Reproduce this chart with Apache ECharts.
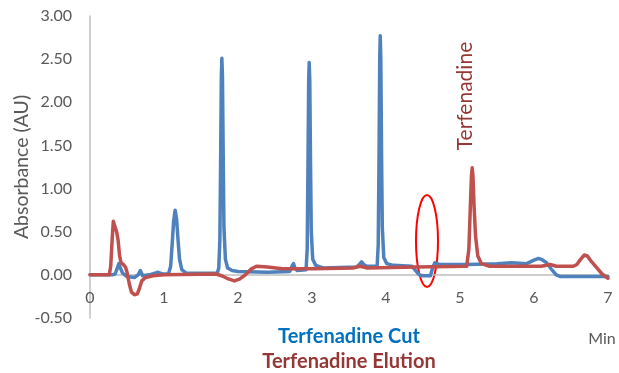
<!DOCTYPE html>
<html>
<head>
<meta charset="utf-8">
<script src="https://cdn.jsdelivr.net/npm/echarts@6/dist/echarts.min.js"></script>
<style>
    html, body {margin: 0; padding: 0; background: #fff;}
    #chart {width: 619px; height: 373px;}
</style>
</head>
<body>
<div id="chart"></div>
<script>
// Terfenadine Cut (blue trace)
var cutTime = [0.00, 0.30, 0.34, 0.37, 0.39, 0.41, 0.44, 0.50, 0.60, 0.65, 0.68, 0.71, 0.80, 0.88, 0.92, 0.98,
    1.06, 1.09, 1.11, 1.13, 1.15, 1.17, 1.19, 1.21, 1.24, 1.30,
    1.72, 1.74, 1.755, 1.765, 1.775, 1.782, 1.79, 1.80, 1.81, 1.83, 1.86, 1.92, 2.00,
    2.40, 2.70, 2.73, 2.75, 2.77, 2.80, 2.92, 2.935, 2.945, 2.955, 2.962, 2.97, 2.98, 2.99, 3.01, 3.05,
    3.15, 3.60, 3.64, 3.67, 3.70, 3.74, 3.88, 3.895, 3.905, 3.915, 3.922, 3.93, 3.94, 3.95, 3.97, 4.01,
    4.10, 4.35, 4.40, 4.45, 4.50, 4.60, 4.63, 4.66, 4.72, 5.10, 5.50, 5.70, 5.90,
    6.00, 6.06, 6.10, 6.17, 6.24, 6.30, 6.36, 7.00];
var cutAbs = [0.00, 0.00, 0.01, 0.08, 0.13, 0.08, 0.02, -0.02, -0.03, 0.00, 0.05, -0.01, 0.00, 0.02, 0.03, 0.01,
    0.01, 0.10, 0.35, 0.62, 0.75, 0.65, 0.40, 0.18, 0.06, 0.02,
    0.02, 0.08, 0.40, 1.30, 2.30, 2.51, 2.30, 1.40, 0.55, 0.18, 0.08, 0.05, 0.04,
    0.03, 0.04, 0.10, 0.13, 0.08, 0.05, 0.06, 0.30, 1.20, 2.25, 2.46, 2.25, 1.30, 0.50, 0.18, 0.11,
    0.08, 0.09, 0.12, 0.15, 0.12, 0.10, 0.10, 0.35, 1.30, 2.50, 2.77, 2.50, 1.40, 0.55, 0.20, 0.13,
    0.11, 0.10, 0.05, 0.00, -0.01, -0.01, 0.08, 0.14, 0.12, 0.12, 0.13, 0.14, 0.13,
    0.17, 0.19, 0.18, 0.14, 0.06, 0.00, -0.02, -0.02];

// Terfenadine Elution (red trace)
var elutionTime = [0.00, 0.26, 0.28, 0.30, 0.315, 0.325, 0.34, 0.36, 0.38, 0.40, 0.42, 0.45, 0.48, 0.50, 0.53, 0.56,
    0.60, 0.64, 0.67, 0.70, 0.75, 0.85, 1.00, 1.70, 1.78, 1.85, 1.95, 2.02, 2.10, 2.18, 2.25, 2.40, 2.60,
    3.00, 3.55, 3.65, 3.75, 4.40, 5.09, 5.12, 5.14, 5.155, 5.165, 5.175, 5.19, 5.21, 5.24, 5.29, 5.40,
    6.10, 6.22, 6.30, 6.53, 6.58, 6.63, 6.68, 6.72, 6.78, 6.85, 6.92, 7.00];
var elutionAbs = [0.00, 0.00, 0.10, 0.42, 0.62, 0.64, 0.55, 0.50, 0.40, 0.22, 0.14, 0.12, 0.09, 0.03, -0.10, -0.20,
    -0.23, -0.22, -0.15, -0.07, -0.03, -0.01, 0.00, 0.01, -0.01, -0.04, -0.07, -0.05, 0.00, 0.07, 0.10, 0.09, 0.07,
    0.07, 0.08, 0.10, 0.08, 0.09, 0.10, 0.30, 0.80, 1.15, 1.24, 1.15, 0.80, 0.45, 0.22, 0.13, 0.10,
    0.10, 0.12, 0.10, 0.10, 0.12, 0.18, 0.23, 0.22, 0.15, 0.08, 0.01, -0.04];

var xTicks = [0, 1, 2, 3, 4, 5, 6, 7];
var yTicks = [-0.5, 0, 0.5, 1, 1.5, 2, 2.5, 3];

function pairs(xs, ys) {
    var list = [];
    for (var i = 0; i < xs.length; i++) {
        list.push([xs[i], ys[i]]);
    }
    return list;
}

var font = 'Lato, "Open Sans", sans-serif';
var gridTop = 16, gridBottom = 55, chartHeight = 373;
// move the x axis up to the 0.00 line
var plotHeight = chartHeight - gridTop - gridBottom;
var zeroOffset = plotHeight * (0 - yTicks[0]) / (yTicks[yTicks.length - 1] - yTicks[0]);

var chart = echarts.init(document.getElementById('chart'));
chart.setOption({
    animation: false,
    grid: {left: 90, right: 11, top: gridTop, bottom: gridBottom, containLabel: false, outerBoundsMode: 'none'},
    xAxis: {
        type: 'value',
        min: xTicks[0],
        max: xTicks[xTicks.length - 1],
        interval: 1,
        offset: -zeroOffset,
        axisLine: {onZero: false, lineStyle: {color: '#BFBFBF', width: 1.5}},
        axisTick: {show: false},
        splitLine: {show: false},
        axisLabel: {color: '#595959', fontSize: 16, fontFamily: font, margin: 15}
    },
    yAxis: {
        type: 'value',
        min: yTicks[0],
        max: yTicks[yTicks.length - 1],
        interval: 0.5,
        name: 'Absorbance (AU)',
        nameLocation: 'middle',
        nameGap: 58,
        nameMoveOverlap: false,
        nameTextStyle: {color: '#595959', fontSize: 19.5, fontFamily: font},
        axisLine: {show: true, lineStyle: {color: '#BFBFBF', width: 1.5}},
        axisTick: {show: false},
        splitLine: {show: false},
        axisLabel: {
            color: '#595959', fontSize: 16, fontFamily: font, margin: 18,
            formatter: function (v) { return v.toFixed(2); }
        }
    },
    series: [
        {
            name: 'Terfenadine Cut',
            type: 'line',
            showSymbol: false,
            lineStyle: {color: '#4F81BD', width: 3.5, join: 'round', cap: 'round'},
            data: pairs(cutTime, cutAbs)
        },
        {
            name: 'Terfenadine Elution',
            type: 'line',
            showSymbol: false,
            lineStyle: {color: '#C0504D', width: 3.5, join: 'round', cap: 'round'},
            data: pairs(elutionTime, elutionAbs)
        }
    ],
    graphic: [
        {
            type: 'text', x: 465, y: 96, rotation: Math.PI / 2,
            style: {text: 'Terfenadine', fill: '#953735', font: '21px ' + font, align: 'center', verticalAlign: 'middle'}
        },
        {
            type: 'ellipse', shape: {cx: 427, cy: 241, rx: 11, ry: 46},
            style: {fill: 'none', stroke: '#FF0000', lineWidth: 2}
        },
        {
            type: 'text', x: 349, y: 337,
            style: {text: 'Terfenadine Cut', fill: '#0070C0', font: 'bold 20px ' + font, align: 'center', verticalAlign: 'middle'}
        },
        {
            type: 'text', x: 349, y: 362,
            style: {text: 'Terfenadine Elution', fill: '#953735', font: 'bold 20px ' + font, align: 'center', verticalAlign: 'middle'}
        },
        {
            type: 'text', x: 602, y: 339,
            style: {text: 'Min', fill: '#595959', font: '16px ' + font, align: 'center', verticalAlign: 'middle'}
        }
    ]
});
</script>
</body>
</html>
